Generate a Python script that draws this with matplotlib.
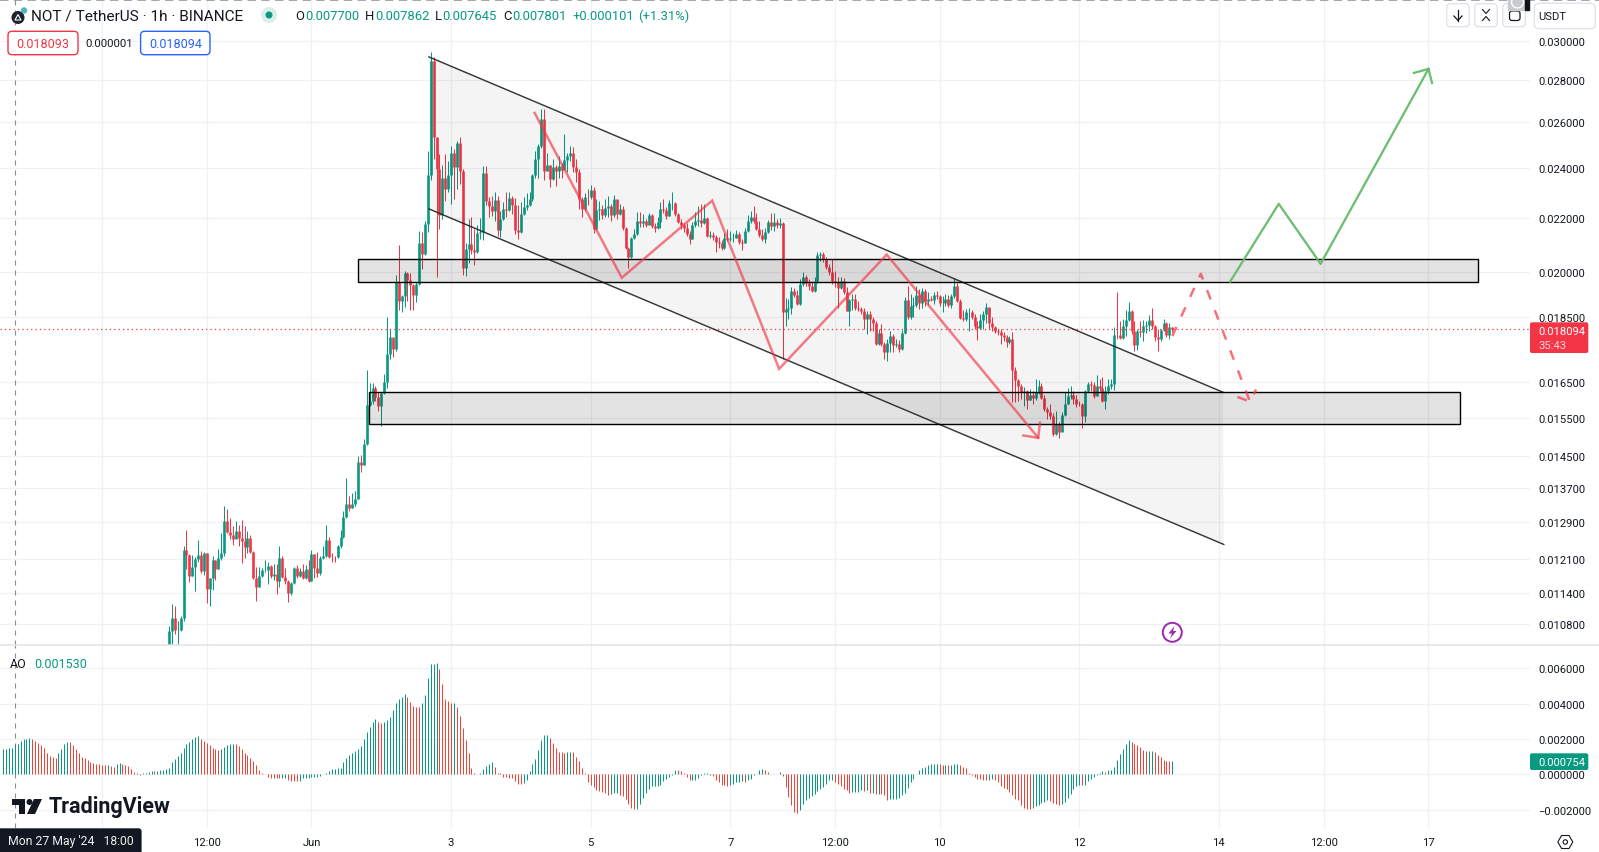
import numpy as np
import matplotlib
matplotlib.use("Agg")
import matplotlib.pyplot as plt
from matplotlib.patches import FancyBboxPatch, Circle, Polygon

plt.rcParams['font.family'] = ['Roboto', 'DejaVu Sans']

# candles, hourly, prices in millionths of USDT. open = previous close
first_open = 10350
first_hour = -49  # hours from 1 Jun 00:00

closes = [
    10670, 10910, 10680, 10690, 10910, 12290, 12190, 11740, 11930, 12100,
    12180, 11840, 12230, 11480, 11700, 12080, 11890, 12120, 12230, 12930,
    12690, 12620, 12520, 12710, 12550, 12480, 12360, 12550, 12250, 11700,
    11510, 11740, 11870, 11870, 11950, 11740, 11790, 11640, 12120, 11720,
    11640, 11400, 11600, 11910, 11740, 11850, 11700, 11890, 11640, 12210,
    11910, 11800, 12120, 12170, 12510, 12150, 12140, 12130, 12380, 12570,
    13030, 13310, 13220, 13310, 13440, 14340, 14260, 14810, 15850, 15960,
    16330, 16060, 15820, 16190, 16500, 17330, 17860, 17490, 19670, 19010,
    19180, 19960, 19720, 19540, 19220, 19590, 21060, 20640, 21760, 23700,
    28950, 25320, 23960, 22110, 23580, 23130, 23700, 24630, 24030, 25070,
    23880, 20130, 20830, 21000, 20770, 20730, 21410, 21450, 23780, 22670,
    22450, 22270, 22700, 21530, 21950, 22350, 22300, 22780, 22500, 21530,
    21450, 22150, 22400, 22500, 22740, 23690, 24390, 24960, 26150, 23880,
    24130, 23550, 24030, 23860, 24080, 23900, 24330, 24530, 24630, 24030,
    23850, 22730, 22340, 22820, 22800, 23100, 21570, 22300, 22350, 22090,
    22380, 22450, 22100, 22750, 22150, 22340, 21610, 20870, 20540, 21240,
    21380, 21870, 21800, 21860, 21700, 22110, 21690, 21610, 21830, 22340,
    22300, 22070, 22570, 22590, 22150, 21830, 21730, 21600, 21380, 21200,
    21730, 21870, 21900, 21800, 21990, 21310, 21350, 21270, 21090, 21050,
    20870, 21240, 21200, 21220, 21240, 21380, 21090, 21060, 21490, 21870,
    22030, 21870, 21570, 21350, 21200, 21460, 21830, 21690, 21830, 21720,
    21800, 18650, 18750, 18780, 19350, 19200, 18920, 19600, 19840, 19630,
    19530, 19350, 19700, 20610, 20640, 20470, 20180, 20000, 19700, 19660,
    19460, 19700, 19320, 18690, 19050, 19080, 18780, 18750, 18680, 18410,
    18590, 18430, 18300, 17640, 17960, 17640, 17400, 17670, 17880, 17610,
    17620, 17490, 17970, 19050, 18490, 18850, 18880, 19220, 18950, 19350,
    19020, 19090, 19050, 19220, 19190, 18950, 18950, 19090, 18880, 19190,
    19530, 19020, 18460, 18430, 18660, 18660, 18490, 18210, 18140, 18400,
    18590, 18820, 18300, 18180, 18050, 18000, 17920, 17850, 17690, 17790,
    16840, 16560, 16370, 16200, 16230, 15970, 16130, 16040, 16220, 16380,
    16050, 15740, 15660, 15550, 15060, 15320, 15120, 15570, 15880, 16100,
    16120, 16020, 15880, 15860, 15540, 16230, 16450, 16410, 16100, 16380,
    16310, 15960, 16230, 16380, 16450, 17920, 17900, 17830, 18200, 18400,
    18670, 18050, 17610, 18040, 18010, 18190, 18230, 18400, 18190, 17850,
    17790, 18080, 18300, 17920, 18150, 18094,
]
highs = [
    10750, 11180, 11140, 10850, 10950, 12380, 12730, 12210, 12180, 12150,
    12510, 12270, 12250, 12230, 11710, 12170, 12080, 12320, 12660, 13270,
    13200, 13000, 12820, 12930, 12840, 12960, 12820, 12710, 12620, 12270,
    11930, 11930, 11910, 12080, 12030, 11970, 11990, 11990, 12380, 12170,
    11910, 11660, 11620, 11930, 11970, 11910, 11990, 11970, 12080, 12300,
    12210, 12250, 12170, 12380, 12840, 12570, 12230, 12170, 12390, 12730,
    13170, 13950, 13500, 13580, 13620, 14500, 14520, 14940, 16850, 16470,
    16470, 16390, 16220, 16220, 16740, 18480, 18100, 17800, 19910, 20980,
    19200, 20030, 20000, 19960, 19590, 19650, 21510, 21460, 21860, 24730,
    29420, 29150, 25220, 24610, 24110, 24610, 24300, 24930, 24830, 25170,
    25350, 23960, 21030, 21950, 22030, 21570, 21710, 22000, 24080, 24080,
    22810, 22850, 23010, 22850, 22270, 22620, 23030, 23030, 22850, 22780,
    22500, 22620, 22830, 22970, 23010, 23730, 24730, 25030, 26620, 26600,
    24630, 24130, 24390, 24130, 24530, 24200, 25490, 24630, 24930, 24880,
    24390, 23960, 22820, 22960, 23130, 23310, 23210, 22730, 22650, 22500,
    22740, 22850, 22550, 22900, 22530, 22530, 22450, 21650, 20900, 21270,
    21570, 22230, 22230, 22150, 21950, 22190, 22150, 21800, 22030, 22610,
    22730, 22420, 22690, 23000, 22610, 22190, 21950, 21800, 21800, 21490,
    21830, 22230, 22450, 22530, 22530, 22030, 21490, 21460, 21350, 21270,
    21160, 21420, 21570, 21490, 21420, 21530, 21460, 21200, 21610, 22110,
    22260, 22450, 22190, 21870, 21570, 21610, 21910, 22190, 22190, 21950,
    22000, 21830, 19120, 19090, 19490, 19450, 19390, 19770, 20000, 19910,
    19770, 19660, 19840, 20720, 20720, 20720, 20540, 20300, 20470, 20040,
    19840, 19840, 19800, 19490, 19090, 19250, 19250, 19000, 18820, 18780,
    18690, 18690, 18490, 18370, 18110, 18270, 17700, 17790, 18040, 17940,
    17790, 17760, 18070, 19160, 19530, 19250, 19160, 19530, 19420, 19460,
    19420, 19320, 19190, 19320, 19350, 19220, 19190, 19250, 19220, 19250,
    19800, 19630, 19090, 18720, 18750, 18780, 18720, 18590, 18370, 18590,
    18680, 18950, 18780, 18490, 18200, 18100, 18110, 18000, 17920, 17880,
    18000, 16930, 16590, 16440, 16340, 16280, 16300, 16240, 16590, 16560,
    16470, 16130, 15790, 15880, 15630, 15690, 15370, 15650, 16220, 16330,
    16380, 16240, 16130, 15950, 15910, 16260, 16510, 16530, 16510, 16700,
    16590, 16650, 16380, 16590, 16590, 18180, 19300, 18370, 18430, 18720,
    18990, 18720, 18370, 18110, 18350, 18400, 18370, 18560, 18780, 18240,
    18110, 18110, 18430, 18330, 18280, 18180,
]
lows = [
    10350, 10350, 10610, 10350, 10670, 10850, 11890, 11620, 11740, 11440,
    12030, 11800, 11770, 11200, 11140, 11460, 11660, 11890, 12080, 12170,
    12660, 12530, 12390, 12570, 12380, 12010, 12120, 12230, 12230, 11680,
    11240, 11510, 11720, 11820, 11580, 11700, 11660, 11380, 11510, 11700,
    11580, 11220, 11360, 11580, 11700, 11720, 11680, 11680, 11620, 11640,
    11700, 11720, 11770, 12100, 12150, 12120, 12030, 12030, 12120, 12340,
    12550, 13000, 13170, 13220, 13280, 13440, 14090, 14260, 14760, 15820,
    15880, 15960, 15690, 15260, 16160, 16330, 17180, 17240, 17420, 18710,
    18650, 18820, 19010, 18720, 18720, 18970, 19540, 20110, 20620, 21460,
    23500, 24380, 19820, 21560, 21950, 22640, 23000, 22550, 22740, 23130,
    23330, 19900, 19870, 20330, 20630, 20260, 20690, 21200, 21160, 22500,
    22020, 22050, 21880, 21300, 21260, 21900, 22020, 22250, 22150, 21380,
    21200, 21420, 22100, 22300, 22450, 22640, 23580, 23580, 24870, 23510,
    23880, 23210, 23500, 23250, 23580, 23600, 23960, 23830, 24280, 23850,
    23420, 22340, 22020, 22270, 22500, 22730, 21410, 21530, 21900, 21950,
    22020, 22020, 21880, 22020, 21950, 22100, 21530, 20830, 20150, 20500,
    21200, 21350, 21650, 21650, 21650, 21830, 21610, 21460, 21570, 21610,
    22190, 21950, 22070, 22300, 22070, 21800, 21570, 21450, 21310, 21010,
    21200, 21650, 21690, 21650, 21770, 21270, 21240, 21160, 20720, 20870,
    20800, 20830, 21130, 21130, 21090, 21240, 21010, 20800, 21050, 21460,
    21800, 21800, 21530, 21270, 21130, 21050, 21420, 21530, 21490, 21600,
    21600, 17180, 18210, 18430, 18590, 19150, 18880, 18880, 19530, 19530,
    19390, 19320, 19320, 19630, 20400, 20360, 20110, 19900, 19600, 19490,
    18780, 19420, 19250, 18690, 18210, 18720, 18720, 18680, 18590, 18110,
    17950, 18050, 18050, 17610, 17610, 17580, 17180, 17120, 17400, 17400,
    17530, 17400, 17460, 17930, 18430, 18430, 18490, 18820, 18750, 18780,
    18850, 18880, 19020, 18920, 19090, 18850, 18650, 18850, 18820, 18780,
    19120, 18990, 18430, 18370, 18370, 18050, 18430, 18110, 17760, 18110,
    18110, 18280, 18110, 18050, 17960, 17900, 17640, 17730, 17530, 17640,
    15920, 15920, 15950, 16020, 15830, 15730, 15970, 15860, 15970, 16160,
    16020, 15690, 15470, 15470, 15000, 15040, 14960, 15130, 15550, 15860,
    16020, 15880, 15800, 15830, 15230, 15390, 16200, 16230, 16050, 16130,
    16240, 15930, 15740, 16160, 16300, 16270, 17790, 17790, 17790, 17880,
    18370, 17950, 17430, 17460, 17860, 17730, 17960, 18050, 18110, 17730,
    17430, 17730, 18050, 17860, 17790, 18000,
]

# awesome oscillator, millionths
ao_first_hour = -106
ao_values = [
    1415, 1415, 1470, 1510, 1700, 1735, 1890, 1980, 2000, 2040,
    2030, 1890, 1755, 1660, 1470, 1190, 1055, 960, 945, 1190,
    1435, 1700, 1850, 1840, 1660, 1415, 1190, 1000, 945, 810,
    715, 660, 605, 565, 560, 530, 540, 500, 435, 565,
    625, 565, 560, 470, 280, 115, 55, -35, 55, 95,
    150, 205, 190, 205, 225, 265, 300, 380, 680, 870,
    1040, 1230, 1470, 1700, 1810, 2000, 2115, 2150, 1980, 1905,
    1790, 1660, 1510, 1415, 1380, 1435, 1565, 1660, 1700, 1700,
    1695, 1605, 1435, 1225, 1095, 905, 755, 530, 245, 90,
    0, -130, -190, -195, -225, -230, -225, -220, -320, -360,
    -375, -380, -375, -225, -190, -185, -150, -150, -130, -95,
    0, 95, 190, 285, 320, 340, 380, 680, 945, 1095,
    1190, 1340, 1415, 1620, 2000, 2380, 2700, 2945, 3115, 2945,
    2885, 2945, 3080, 3230, 3640, 4020, 4245, 4400, 4530, 4400,
    4075, 3870, 3830, 3825, 4020, 4490, 5430, 6230, 6240, 6300,
    5960, 5095, 4245, 4150, 4020, 4025, 3830, 3320, 2605, 1940,
    1190, 340, 75, 0, 55, 285, 490, 605, 680, 430,
    95, 55, -170, -175, -190, -230, -380, -530, -565, -510,
    -300, 190, 565, 870, 1380, 1950, 2230, 2235, 2075, 1755,
    1470, 1245, 1240, 1235, 1280, 1285, 1245, 960, 755, 340,
    55, -415, -600, -700, -885, -950,
    -1000, -1040, -1150, -1095, -1060, -1040, -1150, -1225, -1377, -1660,
    -1900, -1980, -1945, -1660, -1320, -1040, -810, -680, -680, -680,
    -585, -400, -245, -150, -20, 265, 225, 205, 95, -150,
    -340, -340, -300, -210, -55, 55, 95, -20, -115, -300,
    -435, -585, -620, -660, -585, -530, -435, -435, -400, -435,
    -300, -245, -20, 40, 225, 320, 265, 130, 20, 20,
    20, 130, -95, -715, -1285, -1715, -2130, -2170, -2000, -1660,
    -1470, -1340, -1225, -1095, -960, -850, -715, -530, -340, -300,
    -420, -530, -660, -810, -870, -1040, -1000, -1000, -1000, -905,
    -960, -905, -1060, -1040, -1095, -1095, -1100, -1190, -1435, -1377,
    -1377, -1377, -1340, -1190, -1040, -775, -435, -245, 40, 265,
    360, 435, 510, 565, 605, 605, 565, 545, 545, 510,
    510, 565, 605, 510, 435, 360, 95, -20, -150, -245,
    -250, -300, -340, -300, -245, -300, -435, -660, -775, -810,
    -1000, -1190, -1377, -1470, -1715, -1905, -1980, -1985, -1905, -1790,
    -1715, -1600, -1565, -1470, -1530, -1620, -1660, -1715, -1680, -1565,
    -1340, -1095, -850, -660, -620, -625, -585, -400, -245, -150,
    -20, 95, 190, 130, 265, 270, 415, 830, 1170, 1455,
    1735, 1960, 1830, 1735, 1680, 1530, 1360, 1300, 1340, 1345,
    1265, 1075, 980, 790, 755, 750, 754,
]

price_ticks = [0.030, 0.028, 0.026, 0.024, 0.022, 0.020, 0.0185, 0.0165, 0.0155,
               0.0145, 0.0137, 0.0129, 0.0121, 0.0114, 0.0108]
ao_ticks = [0.006, 0.004, 0.002, 0.0, -0.002]
time_ticks = [-36, 0, 48, 96, 144, 180, 216, 264, 312, 348, 384]
time_labels = ["12:00", "Jun", "3", "5", "7", "12:00", "10", "12", "14", "12:00", "17"]
hidden_time_grid = [-72]
crosshair_hour = -102

# drawings: (hour, price in millionths)
channel_top = [(40.4, 29156), (313.5, 16200)]
channel_bottom = [(40.4, 22340), (313.7, 12410)]
zone_upper = [(16, 401), (19650, 20460)]
zone_lower = [(19.9, 395), (15330, 16200)]
red_path = [(76.75, 26430), (106.7, 19800), (137.8, 22670), (160.8, 16880), (197.8, 20620), (249.9, 14960)]
red_head = [(244.8, 15020), (249.9, 14960), (250.5, 15360)]
dash_path = [(296, 17880), (305.8, 19940), (322.7, 15940)]
dash_head = [(318.4, 16070), (322.7, 15940), (324.8, 16280)]
green_path = [(315.9, 19670), (332.6, 22540), (347, 20290), (384.1, 28550)]
green_head = [(379.1, 28350), (384.1, 28550), (385.3, 27860)]

GREEN = "#089981"
RED = "#f23645"
GRID = "#f0f1f4"
TEXT = "#131722"
AXIS_SIZE = 8.1

W, H = 1599, 853
PANE_R = 1530
PANE_SPLIT = 646.3
PANE_BOT = 828.7

fig = plt.figure(figsize=(W / 100, H / 100), dpi=100, facecolor="white")
ax = fig.add_axes([0, 1 - PANE_SPLIT / H, PANE_R / W, PANE_SPLIT / H])
ax2 = fig.add_axes([0, 1 - PANE_BOT / H, PANE_R / W, (PANE_BOT - PANE_SPLIT) / H], sharex=ax)

# candles
c = np.array(closes) / 1e6
o = np.r_[first_open / 1e6, c[:-1]]
hi = np.array(highs) / 1e6
lo = np.array(lows) / 1e6
t = first_hour + np.arange(len(c))
col = np.where(c >= o, GREEN, RED)
wick = ax.vlines(t, lo, hi, colors=col, lw=0.72, zorder=2)
wick.set_capstyle("butt")
body = ax.vlines(t, np.minimum(o, c), np.maximum(o, c), colors=col, lw=1.9, zorder=2)
body.set_capstyle("butt")

ax.set_yscale("log")
ax.set_xlim(-107.1, 419)
ax.set_ylim(0.01040, 0.03227)
ax.yaxis.tick_right()
ax.set_yticks(price_ticks)
ax.set_yticklabels(["%.6f" % v for v in price_ticks])
ax.minorticks_off()
ax.axhline(c[-1], color=RED, lw=0.9, ls=(0, (1, 2.5)), zorder=3)


def xy(points, scale=1e6):
    return [p[0] for p in points], [p[1] / scale for p in points]


# channel and zones
tx, ty = xy(channel_top)
bx, by = xy(channel_bottom)
ax.fill(tx + bx[::-1], ty + by[::-1], facecolor="black", alpha=0.045, edgecolor="none", zorder=3)
ax.plot(tx, ty, color="#222222", lw=1.05, alpha=0.9, zorder=4)
ax.plot(bx, by, color="#222222", lw=1.05, alpha=0.9, zorder=4)
for zx, zy in (zone_upper, zone_lower):
    rx = [zx[0], zx[1], zx[1], zx[0]]
    ry = [zy[0] / 1e6, zy[0] / 1e6, zy[1] / 1e6, zy[1] / 1e6]
    ax.fill(rx, ry, facecolor="black", alpha=0.11, edgecolor="none", zorder=3)
    ax.fill(rx, ry, facecolor="none", edgecolor="black", lw=1.0, zorder=4)

# hand drawn paths
px, py = xy(red_path)
ax.plot(px, py, color=RED, lw=1.8, alpha=0.65, zorder=5, solid_joinstyle="miter")
px, py = xy(red_head)
ax.plot(px, py, color=RED, lw=1.8, alpha=0.65, zorder=5)
px, py = xy(dash_path)
ax.plot(px, py, color=RED, lw=1.8, alpha=0.7, ls=(0, (4, 4.6)), zorder=5, dash_capstyle="butt")
px, py = xy(dash_head)
ax.plot(px, py, color=RED, lw=1.8, alpha=0.7, ls=(0, (4, 4.6)), zorder=5, dash_capstyle="butt")
px, py = xy(green_path)
ax.plot(px, py, color="#66bb6a", lw=1.65, alpha=0.95, zorder=5)
px, py = xy(green_head)
ax.plot(px, py, color="#66bb6a", lw=1.65, alpha=0.95, zorder=5)

# AO pane
ao = np.array(ao_values) / 1e6
ao_t = ao_first_hour + np.arange(len(ao))
ao_col = ["#089981" if i == 0 or ao[i] >= ao[i - 1] else "#f44336" for i in range(len(ao))]
bars = ax2.vlines(ao_t, 0, ao, colors=ao_col, lw=0.72, zorder=2)
bars.set_capstyle("butt")
ax2.set_ylim(-0.003016, 0.007306)
ax2.yaxis.tick_right()
ax2.set_yticks(ao_ticks)
ax2.set_yticklabels(["\u2212%.6f" % abs(v) if v < 0 else "%.6f" % v for v in ao_ticks])
ax2.set_xticks(time_ticks)
ax2.set_xticklabels(time_labels)

for a in (ax, ax2):
    for s in a.spines.values():
        s.set_visible(False)
    a.tick_params(axis="both", length=0, labelsize=AXIS_SIZE, labelcolor=TEXT)
    a.tick_params(axis="y", pad=5.8)
    a.tick_params(axis="x", pad=7)
    a.grid(True, color=GRID, lw=0.9, zorder=0)
    a.set_axisbelow(True)
    for h in hidden_time_grid:
        a.axvline(h, color=GRID, lw=0.9, zorder=0)
    a.axvline(crosshair_hour, color="#8a8d96", lw=0.8, ls=(0, (4.5, 4.5)), zorder=1)
ax.tick_params(axis="x", labelbottom=False)

# chrome, in screen pixels
ui = fig.add_axes([0, 0, 1, 1], zorder=10)
ui.set_xlim(0, W)
ui.set_ylim(H, 0)
ui.axis("off")


def box(x0, y0, x1, y1, fc="white", ec="#e0e3eb", lw=1.0, r=4):
    ui.add_patch(FancyBboxPatch((x0, y0), x1 - x0, y1 - y0, boxstyle="round,pad=0,rounding_size=%g" % r,
                                fc=fc, ec=ec, lw=lw, zorder=2))


def label(x, y, s, color=TEXT, size=9, ha="left", **kw):
    ui.text(x, y, s, color=color, fontsize=size, ha=ha, va="center", zorder=5, **kw)


ui.plot([0, W], [0.8, 0.8], color="#8a8d96", lw=1.1, ls=(0, (5.5, 3.5)), zorder=1)
ui.plot([0, W], [PANE_SPLIT, PANE_SPLIT], color="#e0e3eb", lw=1.1, zorder=1)

# header
ui.add_patch(Circle((18, 18.5), 6.5, fc="#1e222d", ec="none", zorder=3))
ui.add_patch(Polygon([(15, 21), (21, 21), (18, 15.5)], closed=True, fc="none", ec="white", lw=0.8, zorder=4))
ui.add_patch(Circle((24, 11.5), 3.2, fc="#4fb6bd", ec="none", zorder=3))
label(31, 16.5, "NOT / TetherUS \u00b7 1h \u00b7 BINANCE", size=11.1)
ui.add_patch(Circle((269, 16), 8, fc="#d9efeb", ec="none", zorder=3))
ui.add_patch(Circle((269, 16), 3.5, fc=GREEN, ec="none", zorder=4))
for x, s in [(295.5, "O"), (365, "H"), (435, "L"), (503.5, "C")]:
    label(x, 16.5, s, size=9.4)
for x, s in [(305, "0.007700"), (375, "0.007862"), (442.5, "0.007645"), (512, "0.007801"),
             (572, "+0.000101"), (638, "(+1.31%)")]:
    label(x, 16.5, s, color=GREEN, size=9.4)
box(8, 32.3, 78, 55.7, ec=RED, lw=1.0)
label(43, 44, "0.018093", color=RED, ha="center")
label(109, 44, "0.000001", ha="center", size=8.2)
box(140.6, 32.3, 210, 55.7, ec="#2962ff", lw=1.0)
label(175.3, 44, "0.018094", color="#2962ff", ha="center")

# top right buttons
box(1446.7, 4.7, 1469.3, 27.7)
box(1474.7, 4.7, 1497.3, 27.7)
box(1502.7, 4.7, 1525.3, 27.7)
box(1534.3, 4.3, 1595.3, 29.7, r=5)
ui.fill([1508, 1525, 1525, 1508], [0, 0, 10.5, 10.5], color="#c9cbd0", zorder=3)
ui.fill([1525, 1529, 1529, 1525], [0, 0, 10.5, 10.5], color="#11131a", zorder=3)
ui.add_patch(Circle((1517.5, 3), 6, fc="none", ec="white", lw=1.0, zorder=4))
ui.plot([1458, 1458], [11, 21.5], color=TEXT, lw=0.9, zorder=5)
ui.plot([1454, 1458, 1462], [17, 21.5, 17], color=TEXT, lw=0.9, zorder=5)
ui.plot([1482.5, 1486, 1489.5], [10.5, 14.5, 10.5], color=TEXT, lw=0.8, zorder=5)
ui.plot([1482.5, 1486, 1489.5], [21.5, 17.5, 21.5], color=TEXT, lw=0.8, zorder=5)
box(1509.5, 12, 1520, 21.5, fc="none", ec=TEXT, lw=0.9, r=2.5)
label(1538.3, 16.7, "USDT", size=AXIS_SIZE)

# price tags
box(1530, 323.3, 1588.3, 354, fc=RED, ec=RED, lw=0, r=2)
label(1538.3, 331.5, "%.6f" % c[-1], color="white", size=AXIS_SIZE)
label(1538.3, 346, "35:43", color="#fbd3d7", size=AXIS_SIZE)
box(1530, 754.3, 1588.3, 771, fc=GREEN, ec=GREEN, lw=0, r=2)
label(1538.3, 762.7, "%.6f" % ao[-1], color="white", size=AXIS_SIZE)

# indicator legend and logo
label(9.6, 664, "AO", size=9)
label(34.4, 664, "0.001530", color=GREEN, size=9)
ui.add_patch(Polygon([(12, 800), (25, 800), (25, 815), (19, 815), (19, 806), (12, 806)], closed=True, fc=TEXT, ec="none", zorder=4))
ui.add_patch(Circle((29.5, 803), 3, fc=TEXT, ec="none", zorder=4))
ui.add_patch(Polygon([(34, 800), (42, 800), (35, 815), (27, 815)], closed=True, fc=TEXT, ec="none", zorder=4))
label(48.5, 807.5, "TradingView", size=15.5, fontweight="bold")

# crosshair date
box(-4, 829.3, 141.6, 858, fc=TEXT, ec=TEXT, lw=0, r=3)
label(8, 842, "Mon 27 May '24   18:00", color="#eeeeee", size=8.8)

# lightning badge and settings gear
ui.add_patch(Circle((1172.3, 633.3), 9.5, fc="white", ec="#9c27b0", lw=1.4, zorder=4))
ui.add_patch(Polygon([(1174.5, 627), (1168.5, 634.5), (1172, 634.5), (1170, 639.5), (1176.5, 632), (1173, 632)],
                     closed=True, fc="#9c27b0", ec="none", zorder=5))
ang = np.radians([0, 60, 120, 180, 240, 300])
ui.add_patch(Polygon(np.c_[1565.3 + 7.5 * np.cos(ang), 843 + 7.5 * np.sin(ang)], closed=True, fc="none", ec=TEXT, lw=0.8, zorder=4))
ui.add_patch(Circle((1565.3, 843), 2.2, fc="none", ec=TEXT, lw=0.8, zorder=4))

fig.savefig("out.png", dpi=100, facecolor="white")
